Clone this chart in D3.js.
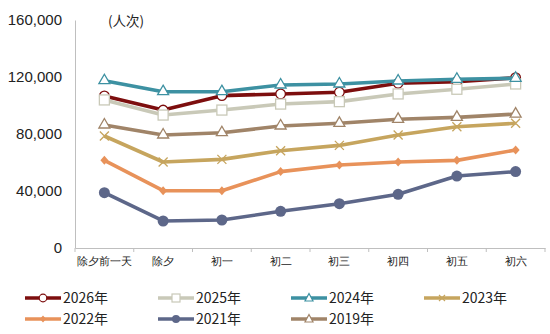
<!DOCTYPE html>
<html>
<head>
<meta charset="utf-8">
<script src="https://cdn.jsdelivr.net/npm/d3@7"></script>
<style>
  html, body { margin: 0; padding: 0; background: #fff; }
  svg { display: block; font-family: "Noto Sans CJK SC", "Liberation Sans", sans-serif; }
</style>
</head>
<body>
<svg id="chart" width="550" height="334"></svg>
<script>
// Travellers per day around the Spring Festival
const categories = ["除夕前一天", "除夕", "初一", "初二", "初三", "初四", "初五", "初六"];
const yTicks = [0, 40000, 80000, 120000, 160000];
const seriesNames = ["2026年", "2025年", "2024年", "2023年", "2022年", "2021年", "2019年"];

const v2026 = [106700, 96800, 106900, 108100, 109300, 115600, 116700, 119500];
const v2025 = [103900, 93300, 96800, 101000, 102700, 108100, 111400, 115100];
const v2024 = [117400, 109700, 109700, 114400, 115100, 117200, 118400, 119100];
const v2023 = [78600, 60350, 62200, 68300, 72000, 79300, 85100, 87500];
const v2022 = [61500, 40200, 40200, 53600, 58200, 60350, 61500, 68800];
const v2021 = [38800, 18950, 19650, 25750, 31100, 37700, 50500, 53600];
const v2019 = [86300, 79300, 80900, 85600, 87500, 90300, 91700, 94000];

const seriesValues = [v2026, v2025, v2024, v2023, v2022, v2021, v2019];
const seriesColors = ["#7d0e0e", "#c9c9b8", "#3d91a2", "#c6a55e", "#e8925a", "#5d6789", "#a08468"];
const seriesMarkers = ["circle", "square", "triangle", "cross", "diamond", "dot", "triangle"];

const svg = d3.select("#chart");
const plotLeft = 75, plotRight = 545, plotTop = 20, plotBottom = 248;

const x = d3.scaleBand().domain(categories).range([plotLeft, plotRight]);
const y = d3.scaleLinear().domain([0, 160000]).range([plotBottom, plotTop]);

// Axes
const yAxis = d3.axisLeft(y).tickValues(yTicks).tickSize(0).tickPadding(13)
  .tickFormat(d3.format(","));
const gy = svg.append("g").attr("transform", `translate(${plotLeft},0)`).call(yAxis);
gy.select(".domain").attr("stroke", "#bfbfbf");
gy.selectAll("text").attr("font-size", 15).attr("fill", "#222")
  .attr("font-family", "'Liberation Sans', Arial, sans-serif");

const xAxis = d3.axisBottom(x).tickSize(0).tickPadding(9);
const gx = svg.append("g").attr("transform", `translate(0,${plotBottom})`).call(xAxis);
gx.select(".domain").attr("stroke", "#bfbfbf");
gx.selectAll("text").attr("font-size", 11).attr("fill", "#222");
// boundary ticks between categories
const edges = categories.map(c => x(c)).concat([plotRight]);
gx.selectAll("line.edge").data(edges).enter().append("line")
  .attr("class", "edge")
  .attr("x1", d => d).attr("x2", d => d).attr("y1", 0).attr("y2", 4)
  .attr("stroke", "#bfbfbf");

svg.append("text").attr("x", 108).attr("y", 26).attr("font-size", 13.5)
  .attr("fill", "#222").text("(人次)");

const cx = c => x(c) + x.bandwidth() / 2;

function drawMarker(g, type, color, px, py) {
  if (type === "circle") {
    g.append("circle").attr("cx", px).attr("cy", py).attr("r", 4.8)
      .attr("fill", "#fff").attr("stroke", color).attr("stroke-width", 1.3);
  } else if (type === "square") {
    g.append("rect").attr("x", px - 5).attr("y", py - 5).attr("width", 10).attr("height", 10)
      .attr("fill", "#fff").attr("stroke", color).attr("stroke-width", 1.3);
  } else if (type === "triangle") {
    g.append("path").attr("d", `M${px},${py - 6.5}L${px + 5.5},${py + 3}L${px - 5.5},${py + 3}Z`)
      .attr("fill", "#fff").attr("stroke", color).attr("stroke-width", 1.3);
  } else if (type === "cross") {
    g.append("path").attr("d", `M${px - 4.5},${py - 4.5}L${px + 4.5},${py + 4.5}M${px + 4.5},${py - 4.5}L${px - 4.5},${py + 4.5}`)
      .attr("stroke", color).attr("stroke-width", 1.3).attr("fill", "none");
  } else if (type === "diamond") {
    g.append("path").attr("d", `M${px},${py - 4.5}L${px + 4},${py}L${px},${py + 4.5}L${px - 4},${py}Z`)
      .attr("fill", color);
  } else if (type === "dot") {
    g.append("circle").attr("cx", px).attr("cy", py).attr("r", 5.5).attr("fill", color);
  }
}

const line = d3.line().x((d, i) => cx(categories[i])).y(d => y(d));

seriesValues.forEach((vals, k) => {
  const g = svg.append("g");
  g.append("path").datum(vals).attr("d", line).attr("fill", "none")
    .attr("stroke", seriesColors[k]).attr("stroke-width", 3.6).attr("stroke-linejoin", "round");
  vals.forEach((v, i) => drawMarker(g, seriesMarkers[k], seriesColors[k], cx(categories[i]), y(v)));
});

// Legend
const legCols = [25, 158, 291, 424];
const legRows = [298, 319];
seriesNames.forEach((name, k) => {
  const lx = legCols[k % 4], ly = legRows[Math.floor(k / 4)];
  const g = svg.append("g");
  g.append("line").attr("x1", lx).attr("x2", lx + 36).attr("y1", ly).attr("y2", ly)
    .attr("stroke", seriesColors[k]).attr("stroke-width", 3.6);
  const m = seriesMarkers[k];
  const mx = lx + 18;
  if (m === "circle") {
    g.append("circle").attr("cx", mx).attr("cy", ly).attr("r", 3.8)
      .attr("fill", "#fff").attr("stroke", seriesColors[k]).attr("stroke-width", 1.2);
  } else if (m === "square") {
    g.append("rect").attr("x", mx - 4).attr("y", ly - 4).attr("width", 8).attr("height", 8)
      .attr("fill", "#fff").attr("stroke", seriesColors[k]).attr("stroke-width", 1.2);
  } else if (m === "triangle") {
    g.append("path").attr("d", `M${mx},${ly - 4.5}L${mx + 4},${ly + 3}L${mx - 4},${ly + 3}Z`)
      .attr("fill", "#fff").attr("stroke", seriesColors[k]).attr("stroke-width", 1.2);
  } else if (m === "cross") {
    g.append("path").attr("d", `M${mx - 3},${ly - 3}L${mx + 3},${ly + 3}M${mx + 3},${ly - 3}L${mx - 3},${ly + 3}`)
      .attr("stroke", seriesColors[k]).attr("stroke-width", 1.2);
  } else if (m === "diamond") {
    g.append("path").attr("d", `M${mx},${ly - 3.5}L${mx + 3},${ly}L${mx},${ly + 3.5}L${mx - 3},${ly}Z`)
      .attr("fill", seriesColors[k]);
  } else if (m === "dot") {
    g.append("circle").attr("cx", mx).attr("cy", ly).attr("r", 4).attr("fill", seriesColors[k]);
  }
  g.append("text").attr("x", lx + 38).attr("y", ly + 5).attr("font-size", 14)
    .attr("fill", "#222").text(name);
});
</script>
</body>
</html>
